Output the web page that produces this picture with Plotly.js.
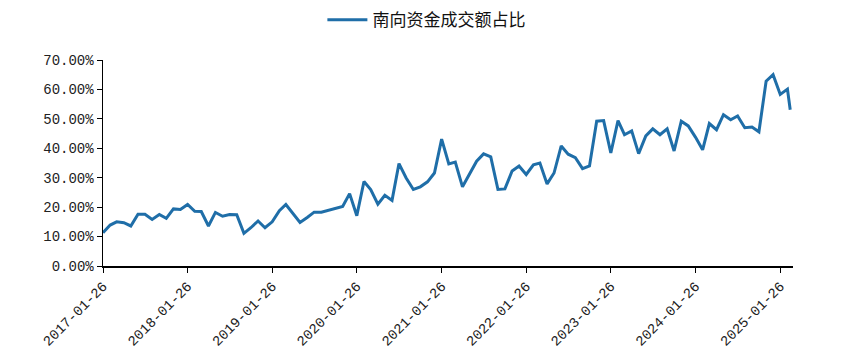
<!DOCTYPE html>
<html>
<head>
<meta charset="utf-8">
<script src="https://cdn.plot.ly/plotly-3.0.1.min.js"></script>
<style>html,body{margin:0;padding:0;background:#fff;}#chart{width:846px;height:360px;}</style>
</head>
<body>
<div id="chart"></div>
<script>
const seriesName = "南向资金成交额占比";
const startYear = 2017;
// monthly observations (26th of each month), values in %
const values = [
  11.3, 13.9, 15.0, 14.7, 13.6, 17.6, 17.6, 15.8, 17.5, 16.2, 19.4, 19.2,
  20.9, 18.6, 18.5, 13.6, 18.2, 16.9, 17.5, 17.4, 11.1, 13.0, 15.3, 13.0,
  15.0, 18.8, 20.9, 17.9, 14.8, 16.5, 18.3, 18.3, 18.9, 19.5, 20.2, 24.6,
  17.1, 28.7, 26.0, 21.0, 24.0, 22.3, 34.8, 29.9, 26.0, 26.9, 28.6, 31.6,
  43.1, 34.7, 35.3, 26.9, 31.4, 35.6, 38.1, 37.1, 26.0, 26.2, 32.3, 34.0,
  31.1, 34.4, 35.0, 27.9, 31.6, 40.8, 38.0, 36.8, 33.1, 34.0, 49.2, 49.4,
  38.4, 49.4, 44.6, 45.9, 38.2, 44.2, 46.6, 44.6, 46.6, 39.1, 49.2, 47.6,
  43.8, 39.5, 48.4, 46.3, 51.4, 49.7, 51.0, 47.0, 47.2, 45.6, 62.8, 65.0,
  58.3, 60.1
];
const lastDate = "2025-03-10";
const lastValue = 53.1;
const tickDates = ["2017-01-26","2018-01-26","2019-01-26","2020-01-26","2021-01-26","2022-01-26","2023-01-26","2024-01-26","2025-01-26"];

const dates = values.map((v, i) => {
  const y = startYear + Math.floor(i / 12);
  const m = (i % 12) + 1;
  return y + "-" + String(m).padStart(2, "0") + "-26";
});
dates.push(lastDate);
const ys = values.concat([lastValue]).map(v => v / 100);

const trace = {
  x: dates, y: ys, type: "scatter", mode: "lines", name: seriesName,
  line: {color: "#1F6EA8", width: 3}
};

const tickFont = {family: "Liberation Mono, DejaVu Sans Mono, monospace", size: 14, color: "#222"};

const layout = {
  width: 846, height: 360,
  margin: {l: 103, r: 53, t: 60, b: 94},
  paper_bgcolor: "#fff", plot_bgcolor: "#fff",
  showlegend: true,
  legend: {
    orientation: "h", xref: "container", yref: "container",
    x: 0.504, xanchor: "center", y: 0.944, yanchor: "middle",
    font: {family: "Noto Sans CJK SC", size: 17, color: "#111"},
    itemwidth: 40
  },
  xaxis: {
    type: "date",
    range: ["2017-01-26", "2025-03-22"],
    tickvals: tickDates, ticktext: tickDates,
    tickangle: -45,
    ticks: "outside", ticklen: 5, tickcolor: "#000", tickwidth: 1,
    showline: true, linecolor: "#000", linewidth: 1.5,
    showgrid: false, zeroline: false,
    tickfont: tickFont
  },
  yaxis: {
    range: [0, 0.7],
    dtick: 0.1, tick0: 0,
    tickformat: ".2%",
    ticks: "outside", ticklen: 5, tickcolor: "#000", tickwidth: 1,
    showline: true, linecolor: "#000", linewidth: 1.5,
    showgrid: false, zeroline: false,
    tickfont: tickFont
  }
};

Plotly.newPlot("chart", [trace], layout, {displayModeBar: false, staticPlot: true});
</script>
</body>
</html>
